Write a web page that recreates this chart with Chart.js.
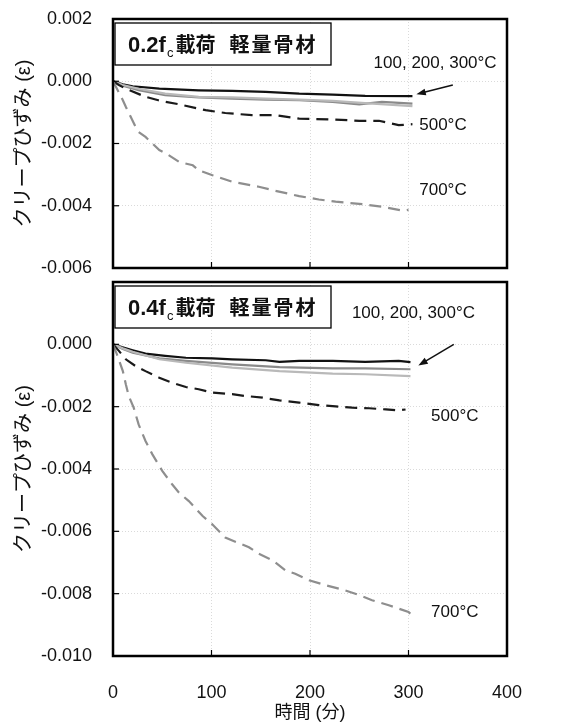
<!DOCTYPE html>
<html>
<head>
<meta charset="utf-8">
<script src="https://cdn.jsdelivr.net/npm/chart.js@4.4.0/dist/chart.umd.min.js"></script>
<style>
  body { margin: 0; background: #fff; }
  .wrap { position: relative; width: 570px; height: 724px; }
  canvas { position: absolute; left: 0; display: block; }
</style>
</head>
<body>
<div class="wrap">
  <canvas id="top" width="570" height="284" style="top:0"></canvas>
  <canvas id="bottom" width="570" height="452" style="top:272px"></canvas>
</div>
<script>
// ---- 0.2fc loading (top panel) ----
const tA100 = [0, 10, 20, 47, 87, 121, 155, 189, 223, 256, 304];
const eA100 = [0, -0.00010, -0.00016, -0.00024, -0.00029, -0.00031, -0.00034, -0.00040, -0.00043, -0.00047, -0.00048];
const tA200 = [0, 10, 26, 53, 87, 121, 155, 189, 223, 250, 273, 304];
const eA200 = [0, -0.00014, -0.00029, -0.00045, -0.00052, -0.00056, -0.00059, -0.00061, -0.00066, -0.00074, -0.00066, -0.00072];
const tA300 = [0, 10, 26, 53, 87, 121, 155, 189, 223, 256, 304];
const eA300 = [0, -0.00012, -0.00024, -0.00040, -0.00050, -0.00052, -0.00056, -0.00059, -0.00063, -0.00070, -0.00080];
const tA500 = [0, 6, 13, 33, 46, 53, 67, 94, 114, 141, 165, 189, 223, 250, 270, 290, 304];
const eA500 = [0, -0.00012, -0.00024, -0.00050, -0.00061, -0.00066, -0.00074, -0.00093, -0.00102, -0.00109, -0.00109, -0.00120, -0.00123, -0.00127, -0.00127, -0.00141, -0.00138];
const tA700 = [0, 4, 10, 13, 23, 26, 33, 47, 54, 67, 81, 87, 101, 121, 148, 165, 189, 209, 226, 253, 273, 295, 300];
const eA700 = [0, -0.00024, -0.00061, -0.00082, -0.00147, -0.00163, -0.00179, -0.00221, -0.00232, -0.00259, -0.00270, -0.00286, -0.00302, -0.00323, -0.00339, -0.00352, -0.00369, -0.00380, -0.00387, -0.00395, -0.00403, -0.00416, -0.00413];

// ---- 0.4fc loading (bottom panel) ----
const tB100 = [0, 9, 20, 33, 53, 74, 101, 121, 155, 169, 189, 223, 256, 290, 302];
const eB100 = [0, -0.00009, -0.00019, -0.00030, -0.00037, -0.00043, -0.00045, -0.00048, -0.00051, -0.00056, -0.00053, -0.00053, -0.00056, -0.00053, -0.00057];
const tB200 = [0, 10, 20, 47, 74, 121, 169, 223, 256, 302];
const eB200 = [0, -0.00015, -0.00027, -0.00045, -0.00053, -0.00064, -0.00073, -0.00077, -0.00077, -0.00080];
const tB300 = [0, 10, 20, 47, 74, 121, 169, 223, 256, 302];
const eB300 = [0, -0.00013, -0.00024, -0.00048, -0.00059, -0.00075, -0.00086, -0.00094, -0.00096, -0.00102];
const tB500 = [0, 6, 13, 23, 33, 47, 60, 74, 87, 101, 121, 135, 152, 169, 189, 209, 226, 243, 260, 277, 290, 297];
const eB500 = [0, -0.00021, -0.00048, -0.00070, -0.00086, -0.00107, -0.00123, -0.00137, -0.00144, -0.00155, -0.00160, -0.00166, -0.00171, -0.00180, -0.00187, -0.00195, -0.00199, -0.00203, -0.00205, -0.00209, -0.00212, -0.00209];
const tB700 = [0, 4, 10, 13, 16, 21, 26, 33, 40, 50, 60, 67, 77, 91, 101, 114, 138, 148, 162, 175, 185, 199, 216, 233, 246, 263, 280, 290, 300, 302];
const eB700 = [0, -0.00032, -0.00086, -0.00128, -0.00166, -0.00203, -0.00257, -0.00310, -0.00353, -0.00406, -0.00449, -0.00476, -0.00503, -0.00551, -0.00578, -0.00620, -0.00651, -0.00672, -0.00693, -0.00725, -0.00736, -0.00757, -0.00773, -0.00787, -0.00800, -0.00821, -0.00837, -0.00848, -0.00859, -0.00864];

const xTicks = [0, 100, 200, 300, 400];

function pts(t, e) { return t.map((x, i) => ({ x: x, y: e[i] })); }

function series(t, e, color, dash) {
  return {
    data: pts(t, e),
    borderColor: color,
    borderWidth: 2.2,
    borderDash: dash || [],
    pointRadius: 0,
    showLine: true,
    tension: 0,
    fill: false
  };
}

const FONT = "'Liberation Sans', Arial, 'Noto Sans CJK JP', sans-serif";
const CJK = "'Liberation Sans', 'Noto Sans CJK JP', sans-serif";

// frame, inward ticks, label box, annotations
const decor = {
  id: 'decor',
  afterDraw(chart) {
    const o = chart.options.plugins.decor;
    const { ctx, chartArea: a, scales } = chart;
    ctx.save();
    // inward tick marks
    ctx.strokeStyle = '#000';
    ctx.lineWidth = 1.2;
    scales.x.ticks.forEach(tk => {
      const px = scales.x.getPixelForValue(tk.value);
      ctx.beginPath(); ctx.moveTo(px, a.bottom); ctx.lineTo(px, a.bottom - 6); ctx.stroke();
    });
    scales.y.ticks.forEach(tk => {
      const py = scales.y.getPixelForValue(tk.value);
      ctx.beginPath(); ctx.moveTo(a.left, py); ctx.lineTo(a.left + 6, py); ctx.stroke();
    });
    // frame
    ctx.lineWidth = 2.5;
    ctx.strokeRect(a.left, a.top, a.right - a.left, a.bottom - a.top);

    // title box
    const bx = a.left + 2, by = a.top + 4, bw = 216, bh = 42;
    ctx.fillStyle = '#fff';
    ctx.fillRect(bx, by, bw, bh);
    ctx.lineWidth = 1.3;
    ctx.strokeRect(bx, by, bw, bh);
    ctx.fillStyle = '#111';
    ctx.textBaseline = 'alphabetic';
    let cx = bx + 13;
    const base = by + 29;
    ctx.font = 'bold 22px ' + CJK;
    ctx.fillText(o.load, cx, base); cx += ctx.measureText(o.load).width + 1;
    ctx.font = '13px ' + FONT;
    ctx.fillText('c', cx, base + 5); cx += ctx.measureText('c').width + 2;
    ctx.font = 'bold 20px ' + CJK;
    ctx.fillText('載荷', cx, base); cx += ctx.measureText('載荷').width + 14;
    '軽量骨材'.split('').forEach(ch => {
      ctx.fillText(ch, cx, base); cx += ctx.measureText(ch).width + 2;
    });

    // annotation text
    ctx.font = '17px ' + FONT;
    ctx.fillStyle = '#111';
    ctx.textAlign = 'center';
    ctx.textBaseline = 'middle';
    o.notes.forEach(n => {
      ctx.fillText(n.text, scales.x.getPixelForValue(n.x), scales.y.getPixelForValue(n.y));
    });

    // arrow
    const ar = o.arrow;
    const x1 = scales.x.getPixelForValue(ar.from[0]), y1 = scales.y.getPixelForValue(ar.from[1]);
    const x2 = scales.x.getPixelForValue(ar.to[0]), y2 = scales.y.getPixelForValue(ar.to[1]);
    const ang = Math.atan2(y2 - y1, x2 - x1);
    ctx.strokeStyle = '#111';
    ctx.lineWidth = 1.5;
    ctx.beginPath(); ctx.moveTo(x1, y1); ctx.lineTo(x2 - 6 * Math.cos(ang), y2 - 6 * Math.sin(ang)); ctx.stroke();
    ctx.beginPath();
    ctx.moveTo(x2, y2);
    ctx.lineTo(x2 - 10 * Math.cos(ang - 0.35), y2 - 10 * Math.sin(ang - 0.35));
    ctx.lineTo(x2 - 10 * Math.cos(ang + 0.35), y2 - 10 * Math.sin(ang + 0.35));
    ctx.closePath();
    ctx.fill();
    ctx.restore();
  }
};

function makeChart(id, sets, yMin, cfg) {
  return new Chart(document.getElementById(id), {
    type: 'scatter',
    data: { datasets: sets },
    plugins: [decor],
    options: {
      responsive: false,
      maintainAspectRatio: false,
      devicePixelRatio: 1,
      animation: false,
      layout: { padding: { top: cfg.padTop, right: 570 - 507, bottom: 0, left: 0 } },
      plugins: {
        legend: { display: false },
        tooltip: { enabled: false },
        decor: cfg.decor
      },
      scales: {
        x: {
          type: 'linear',
          min: 0, max: 400,
          afterBuildTicks: s => { s.ticks = xTicks.map(v => ({ value: v })); },
          afterFit: s => { s.height = cfg.xHeight; },
          grid: { color: '#dadada', drawTicks: false, lineWidth: 1 },
          border: { display: false, dash: [1, 2] },
          ticks: {
            display: cfg.xLabels,
            padding: 26,
            color: '#111',
            font: { family: FONT, size: 18 },
            maxRotation: 0
          },
          title: {
            display: cfg.xLabels,
            text: '時間 (分)',
            color: '#111',
            font: { family: CJK, size: 18 },
            padding: { top: 0, bottom: 0 }
          }
        },
        y: {
          min: yMin, max: 0.002,
          ticks: {
            stepSize: 0.002,
            padding: 21,
            color: '#111',
            font: { family: FONT, size: 18 },
            callback: v => {
              if (cfg.hideTop && v > 0.001) return '';
              if (Math.abs(v) < 1e-9) return '0.000';
              return Number(v).toFixed(3);
            }
          },
          afterFit: s => {
            s.width = 113;
            // labels may overflow the plot edges; keep the plot box where it is
            s.paddingTop = 0;
            s.paddingBottom = 0;
          },
          grid: { color: '#dadada', drawTicks: false, lineWidth: 1 },
          border: { display: false, dash: [1, 2] },
          title: {
            display: true,
            text: 'クリープひずみ (ε)',
            color: '#111',
            font: { family: CJK, size: 20 },
            padding: { top: 12, bottom: 0 }
          }
        }
      }
    }
  });
}

const dashLong = [12, 7];

makeChart('top', [
  series(tA700, eA700, '#8e8e8e', dashLong),
  series(tA500, eA500, '#1a1a1a', dashLong),
  series(tA300, eA300, '#b9b9b9'),
  series(tA200, eA200, '#8a8a8a'),
  series(tA100, eA100, '#111111')
], -0.006, {
  padTop: 19, xHeight: 16, xLabels: false, hideTop: false,
  decor: {
    load: '0.2f',
    notes: [
      { text: '100, 200, 300°C', x: 327, y: 0.00058 },
      { text: '500°C', x: 335, y: -0.00143 },
      { text: '700°C', x: 335, y: -0.00352 }
    ],
    arrow: { from: [345, -0.00012], to: [308, -0.00042] }
  }
});

makeChart('bottom', [
  series(tB700, eB700, '#8e8e8e', dashLong),
  series(tB500, eB500, '#1a1a1a', dashLong),
  series(tB300, eB300, '#b9b9b9'),
  series(tB200, eB200, '#8a8a8a'),
  series(tB100, eB100, '#111111')
], -0.010, {
  padTop: 10, xHeight: 68, xLabels: true, hideTop: true,
  decor: {
    load: '0.4f',
    notes: [
      { text: '100, 200, 300°C', x: 305, y: 0.00098 },
      { text: '500°C', x: 347, y: -0.00230 },
      { text: '700°C', x: 347, y: -0.00860 }
    ],
    arrow: { from: [346, 0.00000], to: [310, -0.00068] }
  }
});
</script>
</body>
</html>
